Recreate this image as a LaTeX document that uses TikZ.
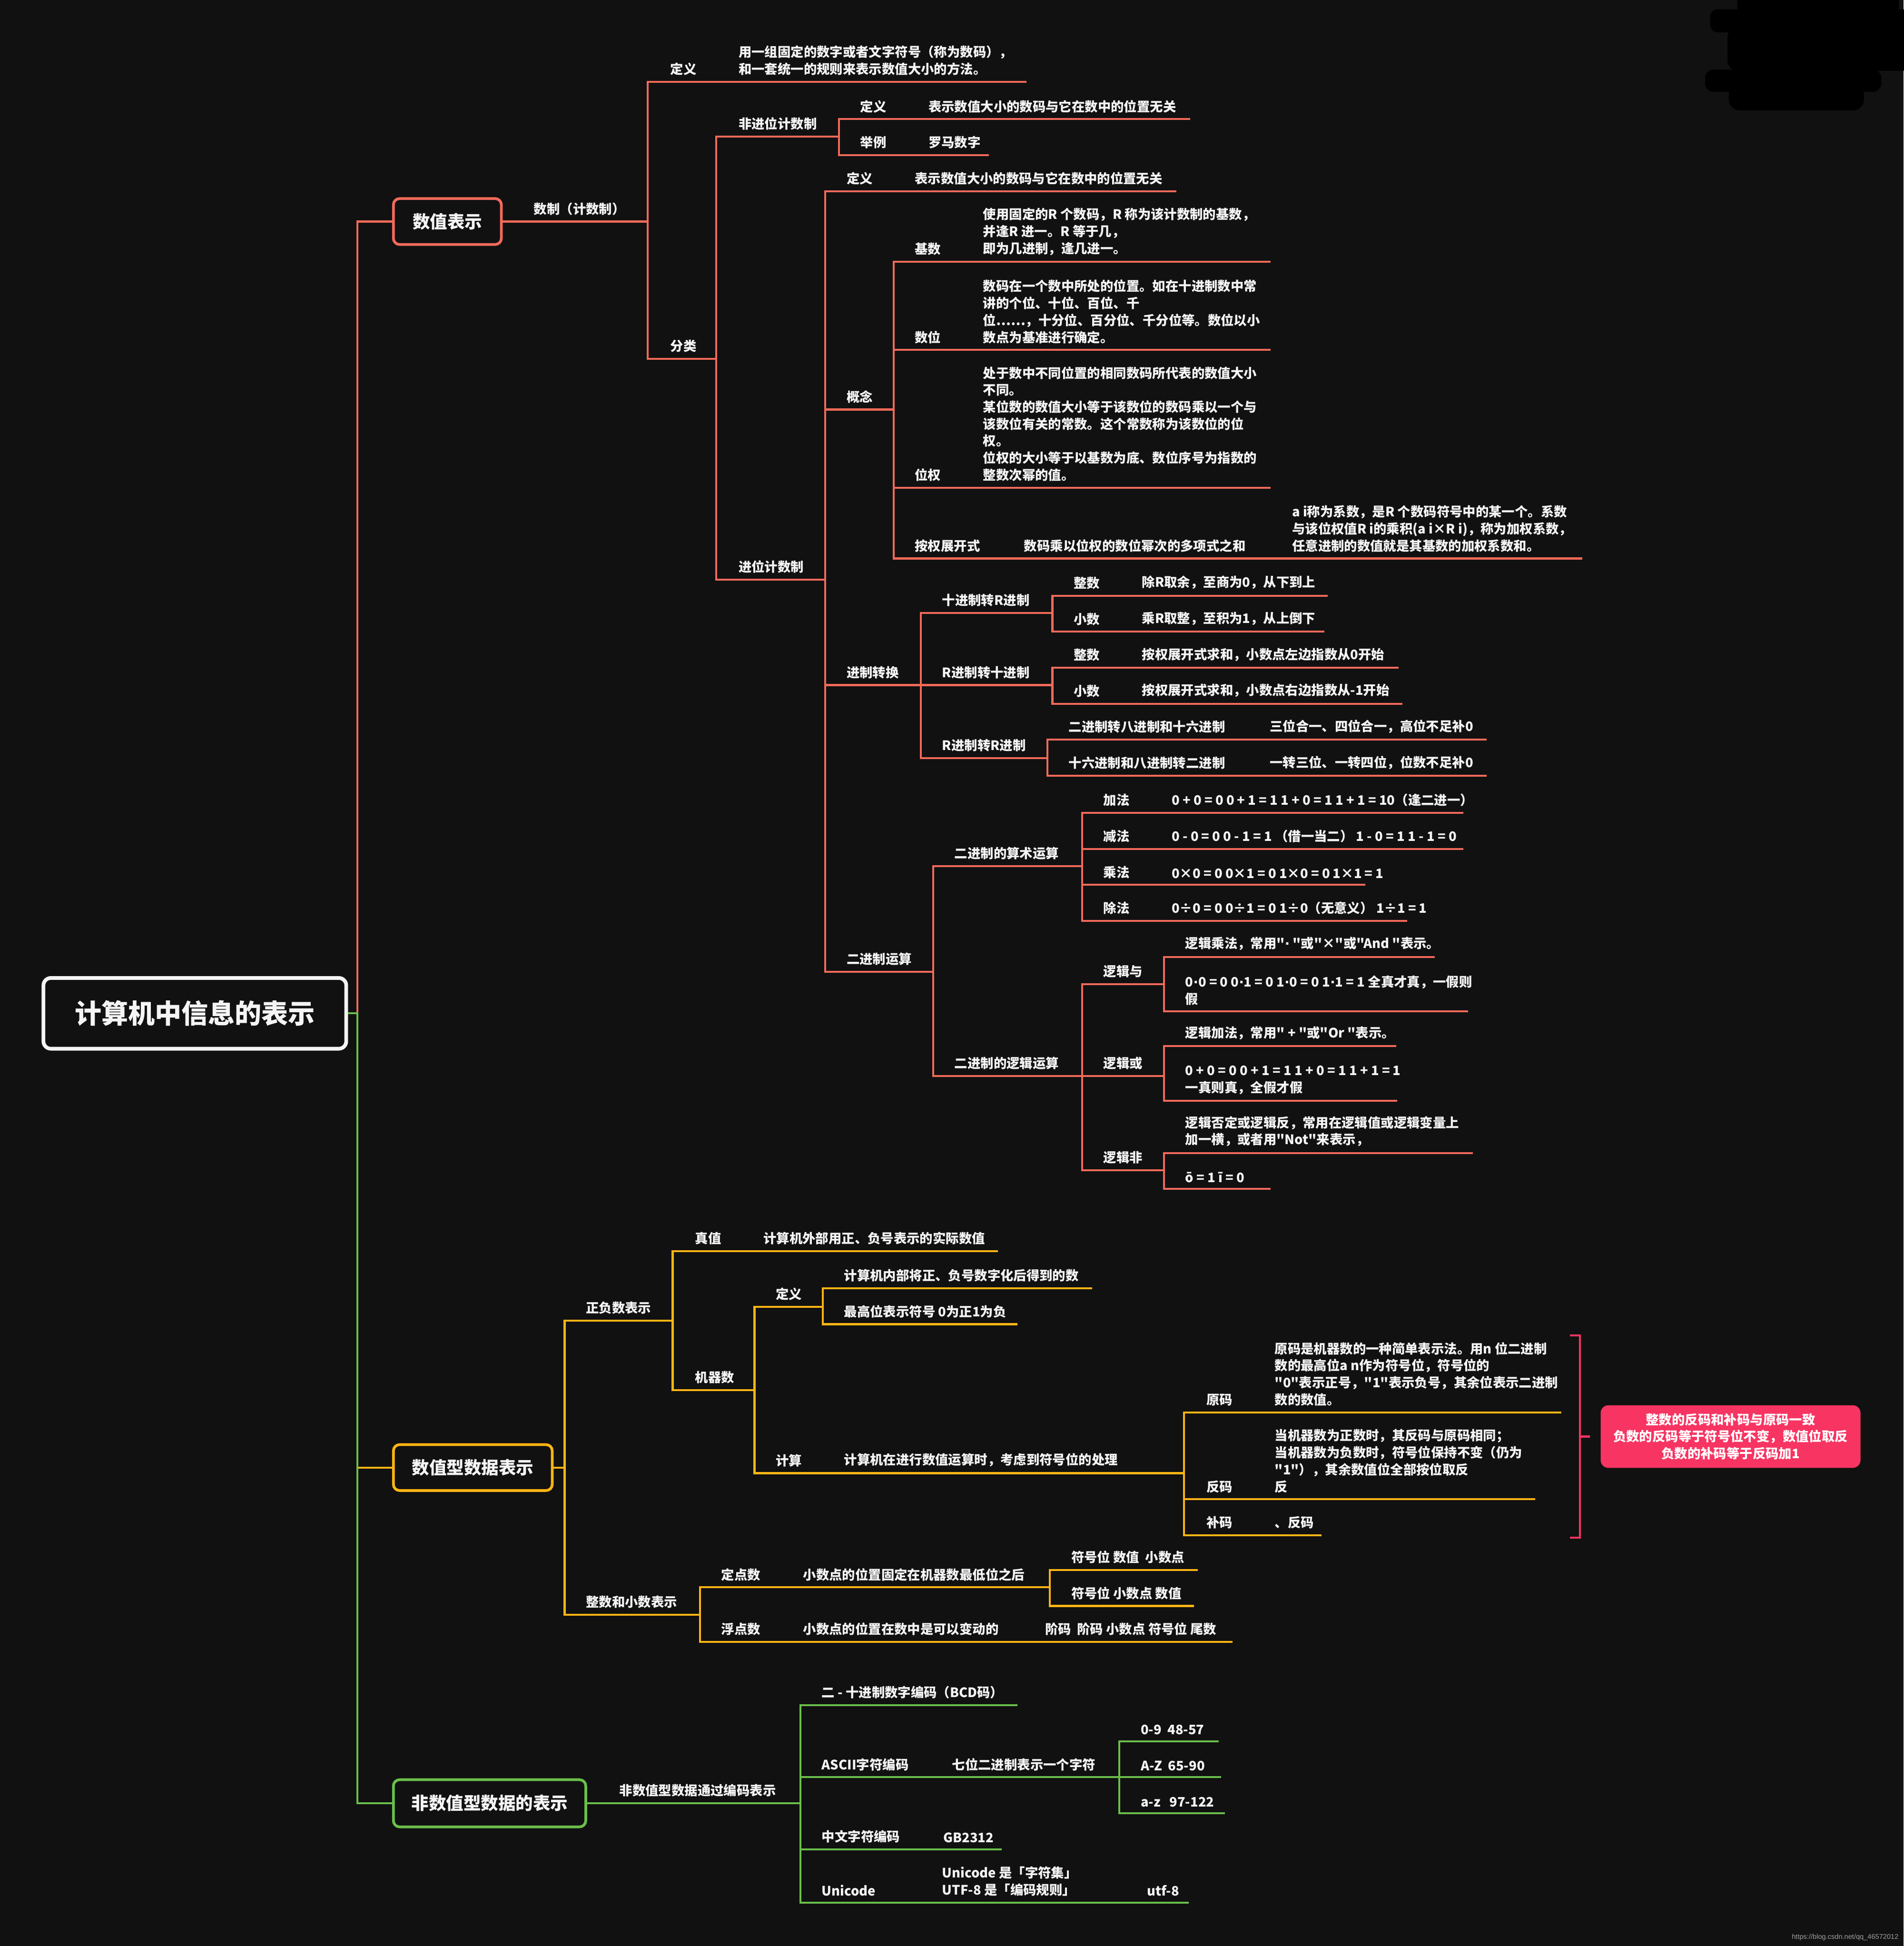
\documentclass[tikz,border=0pt]{standalone}
\usepackage{fontspec}
\setmainfont{Noto Sans CJK SC}
\newfontfamily\cjkfamily{Noto Sans CJK SC}
\newfontfamily\dotfamily{DejaVu Sans}
\newfontfamily\wmfamily{Liberation Sans}
\usetikzlibrary{positioning,calc}

\definecolor{bgc}{HTML}{111111}
\definecolor{redc}{HTML}{F26A5A}
\definecolor{yelc}{HTML}{FDB514}
\definecolor{grnc}{HTML}{6ABF4B}
\definecolor{pinkc}{HTML}{F73462}
\definecolor{txtc}{HTML}{F4F4F4}
\newcommand{\lblfont}{\cjkfamily\bfseries\fontsize{10.5}{13.7}\selectfont}
\newcommand{\mdot}{{\dotfamily ·}}

\begin{document}
\begin{tikzpicture}[x=1pt, y=-1pt,
    lbl/.style={anchor=south west, inner sep=0pt, text=txtc, align=left, font=\lblfont},
    rl/.style={draw=redc, line width=1.6pt},
    yl/.style={draw=yelc, line width=1.6pt},
    gl/.style={draw=grnc, line width=1.6pt},
    pl/.style={draw=pinkc, line width=1.6pt},
    topicbox/.style={draw, rounded corners=5pt, line width=2.2pt, fill=bgc, text=txtc, inner sep=0pt, font=\bfseries\fontsize{14}{16}\selectfont},
    summary/.style={draw=pinkc, fill=pinkc, rounded corners=6pt, minimum width=209pt, minimum height=50pt, inner sep=0pt, text=white, align=center, font=\lblfont}
]
\fill[bgc] (0,0) rectangle (1534,1568);
\useasboundingbox (0,0) rectangle (1534,1568);

\fill[black, rounded corners=6pt] (1400,-8) rectangle (1530,11.5);
\fill[black, rounded corners=6pt] (1378,7.5) rectangle (1545,26);
\fill[black, rounded corners=8pt] (1392,22) rectangle (1545,57);
\fill[black, rounded corners=7pt] (1374,56) rectangle (1516,74);
\fill[black, rounded corners=9pt] (1393,68) rectangle (1502,89);

\node[draw=txtc, rounded corners=6pt, line width=3pt, minimum width=244pt, minimum height=57pt, inner sep=0pt, text=txtc, font=\bfseries\fontsize{21.5}{24}\selectfont] (root) at (157,816.5) {计算机中信息的表示};

\node[topicbox, draw=redc, minimum width=87pt, minimum height=37pt] (numbox) at (360.5,178.5) {数值表示};
\node[topicbox, draw=yelc, minimum width=128pt, minimum height=37pt] (databox) at (381,1182.5) {数值型数据表示};
\node[topicbox, draw=grnc, minimum width=155pt, minimum height=38pt] (nonbox) at (394.5,1453) {非数值型数据的表示};

\coordinate (hub) at (288,816.5);
\draw[rl] (hub) |- (numbox.west);
\draw[yl] (hub) |- (databox.west);
\draw[gl] (root.east) -- (hub) |- (nonbox.west);

% 数值表示
\coordinate (numsys) at (522,178.5);
\coordinate (def) at (827,66);
\coordinate (classify) at (577,289);
\coordinate (nonpos) at (676,110);
\coordinate (nonpos-def) at (959,96);
\coordinate (nonpos-ex) at (797,125);
\coordinate (pos) at (665,467);
\coordinate (pos-def) at (948,154);
\coordinate (concept) at (720,330);
\coordinate (radix) at (1024,211);
\coordinate (digit) at (1024,282);
\coordinate (weight) at (1024,393);
\coordinate (expand) at (1275,450);
\coordinate (conv) at (742,552);
\coordinate (d2r) at (848,494);
\coordinate (d2r-int) at (1070,480);
\coordinate (d2r-frac) at (1067,509);
\coordinate (r2d) at (848,552);
\coordinate (r2d-int) at (1127,538);
\coordinate (r2d-frac) at (1130,567);
\coordinate (r2r) at (844,611);
\coordinate (r2r-a) at (1198,596);
\coordinate (r2r-b) at (1198,625);
\coordinate (binop) at (752,783);
\coordinate (arith) at (872,698);
\coordinate (add) at (1179,655);
\coordinate (sub) at (1179,684);
\coordinate (mul) at (1100,713);
\coordinate (div) at (1134,742);
\coordinate (logic) at (872,867);
\coordinate (land) at (938,793);
\coordinate (land-a) at (1156,771);
\coordinate (land-b) at (1183,815);
\coordinate (lor) at (938,867);
\coordinate (lor-a) at (1125,843);
\coordinate (lor-b) at (1126,887);
\coordinate (lnot) at (938,943);
\coordinate (lnot-a) at (1187,929);
\coordinate (lnot-b) at (1024,958);

\draw[rl] (numbox.east) -- (numsys);
\foreach \p/\c in {numsys/def, numsys/classify, classify/nonpos, classify/pos,
    nonpos/nonpos-def, nonpos/nonpos-ex, pos/pos-def, pos/concept, pos/conv, pos/binop,
    concept/radix, concept/digit, concept/weight, concept/expand,
    conv/d2r, conv/r2d, conv/r2r, d2r/d2r-int, d2r/d2r-frac, r2d/r2d-int, r2d/r2d-frac,
    r2r/r2r-a, r2r/r2r-b, binop/arith, binop/logic,
    arith/add, arith/sub, arith/mul, arith/div, logic/land, logic/lor, logic/lnot,
    land/land-a, land/land-b, lor/lor-a, lor/lor-b, lnot/lnot-a, lnot/lnot-b}
    \draw[rl] (\p) |- (\c);

\node[lbl] (numsys-t) at (430,173.5) {数制（计数制）};
\node[lbl] (def-t) at (540,61) {定义};
\node[lbl] (def-d) at (595,61) {用一组固定的数字或者文字符号（称为数码），\\和一套统一的规则来表示数值大小的方法。};
\node[lbl] (classify-t) at (540,284) {分类};
\node[lbl] (nonpos-t) at (595,105) {非进位计数制};
\node[lbl] (nonpos-def-t) at (693,91) {定义};
\node[lbl] (nonpos-def-d) at (748,91) {表示数值大小的数码与它在数中的位置无关};
\node[lbl] (nonpos-ex-t) at (693,120) {举例};
\node[lbl] (nonpos-ex-d) at (748,120) {罗马数字};
\node[lbl] (pos-t) at (595,462) {进位计数制};
\node[lbl] (pos-def-t) at (682,149) {定义};
\node[lbl] (pos-def-d) at (737,149) {表示数值大小的数码与它在数中的位置无关};
\node[lbl] (concept-t) at (682,325) {概念};
\node[lbl] (radix-t) at (737,206) {基数};
\node[lbl] (radix-d) at (792,206) {使用固定的R 个数码，R 称为该计数制的基数，\\并逢R 进一。R 等于几，\\即为几进制，逢几进一。};
\node[lbl] (digit-t) at (737,277) {数位};
\node[lbl] (digit-d) at (792,277) {数码在一个数中所处的位置。如在十进制数中常\\讲的个位、十位、百位、千\\位……，十分位、百分位、千分位等。数位以小\\数点为基准进行确定。};
\node[lbl] (weight-t) at (737,388) {位权};
\node[lbl] (weight-d) at (792,388) {处于数中不同位置的相同数码所代表的数值大小\\不同。\\某位数的数值大小等于该数位的数码乘以一个与\\该数位有关的常数。这个常数称为该数位的位\\权。\\位权的大小等于以基数为底、数位序号为指数的\\整数次幂的值。};
\node[lbl] (expand-t) at (737,445) {按权展开式};
\node[lbl] (expand-d) at (825,445) {数码乘以位权的数位幂次的多项式之和};
\node[lbl] (expand-n) at (1041,445) {a i称为系数，是R 个数码符号中的某一个。系数\\与该位权值R i的乘积(a i×R i)，称为加权系数，\\任意进制的数值就是其基数的加权系数和。};
\node[lbl] (conv-t) at (682,547) {进制转换};
\node[lbl] (d2r-t) at (759,489) {十进制转R进制};
\node[lbl] (d2r-int-t) at (865,475) {整数};
\node[lbl] (d2r-int-d) at (920,475) {除R取余，至商为0，从下到上};
\node[lbl] (d2r-frac-t) at (865,504) {小数};
\node[lbl] (d2r-frac-d) at (920,504) {乘R取整，至积为1，从上倒下};
\node[lbl] (r2d-t) at (759,547) {R进制转十进制};
\node[lbl] (r2d-int-t) at (865,533) {整数};
\node[lbl] (r2d-int-d) at (920,533) {按权展开式求和，小数点左边指数从0开始};
\node[lbl] (r2d-frac-t) at (865,562) {小数};
\node[lbl] (r2d-frac-d) at (920,562) {按权展开式求和，小数点右边指数从-1开始};
\node[lbl] (r2r-t) at (759,606) {R进制转R进制};
\node[lbl] (r2r-a-t) at (861,591) {二进制转八进制和十六进制};
\node[lbl] (r2r-a-d) at (1023,591) {三位合一、四位合一，高位不足补0};
\node[lbl] (r2r-b-t) at (861,620) {十六进制和八进制转二进制};
\node[lbl] (r2r-b-d) at (1023,620) {一转三位、一转四位，位数不足补0};
\node[lbl] (binop-t) at (682,778) {二进制运算};
\node[lbl] (arith-t) at (769,693) {二进制的算术运算};
\node[lbl] (add-t) at (889,650) {加法};
\node[lbl] (add-d) at (944,650) {0 + 0 = 0 0 + 1 = 1 1 + 0 = 1 1 + 1 = 10（逢二进一）};
\node[lbl] (sub-t) at (889,679) {减法};
\node[lbl] (sub-d) at (944,679) {0 - 0 = 0 0 - 1 = 1 （借一当二） 1 - 0 = 1 1 - 1 = 0};
\node[lbl] (mul-t) at (889,708) {乘法};
\node[lbl] (mul-d) at (944,708) {0×0 = 0 0×1 = 0 1×0 = 0 1×1 = 1};
\node[lbl] (div-t) at (889,737) {除法};
\node[lbl] (div-d) at (944,737) {0÷0 = 0 0÷1 = 0 1÷0（无意义） 1÷1 = 1};
\node[lbl] (logic-t) at (769,862) {二进制的逻辑运算};
\node[lbl] (land-t) at (889,788) {逻辑与};
\node[lbl] (land-a-d) at (955,766) {逻辑乘法，常用"\mdot{} "或"×"或"And "表示。};
\node[lbl] (land-b-d) at (955,810) {0\mdot0 = 0 0\mdot1 = 0 1\mdot0 = 0 1\mdot1 = 1 全真才真，一假则\\假};
\node[lbl] (lor-t) at (889,862) {逻辑或};
\node[lbl] (lor-a-d) at (955,838) {逻辑加法，常用" + "或"Or "表示。};
\node[lbl] (lor-b-d) at (955,882) {0 + 0 = 0 0 + 1 = 1 1 + 0 = 1 1 + 1 = 1\\一真则真，全假才假};
\node[lbl] (lnot-t) at (889,938) {逻辑非};
\node[lbl] (lnot-a-d) at (955,924) {逻辑否定或逻辑反，常用在逻辑值或逻辑变量上\\加一横，或者用"Not"来表示，};
\node[lbl] (lnot-b-d) at (955,953) {ō = 1 ī = 0};

% 数值型数据表示
\coordinate (datahub) at (455,1182.5);
\coordinate (signed) at (542,1064);
\coordinate (truev) at (804,1008);
\coordinate (machine) at (608,1120);
\coordinate (mdef) at (663,1053);
\coordinate (mdef-a) at (880,1038);
\coordinate (mdef-b) at (820,1067);
\coordinate (calc) at (954,1187);
\coordinate (orig) at (1258,1138);
\coordinate (ones) at (1237,1208);
\coordinate (twos) at (1065,1237);
\coordinate (intfrac) at (564,1301);
\coordinate (fixed) at (846,1279);
\coordinate (fixed-a) at (965,1265);
\coordinate (fixed-b) at (962,1294);
\coordinate (float) at (993,1323);

\draw[yl] (databox.east) -- (datahub);
\foreach \p/\c in {datahub/signed, datahub/intfrac, signed/truev, signed/machine,
    machine/mdef, machine/calc, mdef/mdef-a, mdef/mdef-b,
    calc/orig, calc/ones, calc/twos, intfrac/fixed, intfrac/float,
    fixed/fixed-a, fixed/fixed-b}
    \draw[yl] (\p) |- (\c);

\node[lbl] (signed-t) at (472,1059) {正负数表示};
\node[lbl] (truev-t) at (560,1003) {真值};
\node[lbl] (truev-d) at (615,1003) {计算机外部用正、负号表示的实际数值};
\node[lbl] (machine-t) at (560,1115) {机器数};
\node[lbl] (mdef-t) at (625,1048) {定义};
\node[lbl] (mdef-a-d) at (680,1033) {计算机内部将正、负号数字化后得到的数};
\node[lbl] (mdef-b-d) at (680,1062) {最高位表示符号 0为正1为负};
\node[lbl] (calc-t) at (625,1182) {计算};
\node[lbl] (calc-d) at (680,1182) {计算机在进行数值运算时，考虑到符号位的处理};
\node[lbl] (orig-t) at (972,1133) {原码};
\node[lbl] (orig-d) at (1027,1133) {原码是机器数的一种简单表示法。用n 位二进制\\数的最高位a n作为符号位，符号位的\\"0"表示正号，"1"表示负号，其余位表示二进制\\数的数值。};
\node[lbl] (ones-t) at (972,1203) {反码};
\node[lbl] (ones-d) at (1027,1203) {当机器数为正数时，其反码与原码相同；\\当机器数为负数时，符号位保持不变（仍为\\"1"），其余数值位全部按位取反\\反};
\node[lbl] (twos-t) at (972,1232) {补码};
\node[lbl] (twos-d) at (1027,1232) {、反码};
\node[lbl] (intfrac-t) at (472,1296) {整数和小数表示};
\node[lbl] (fixed-t) at (581,1274) {定点数};
\node[lbl] (fixed-d) at (647,1274) {小数点的位置固定在机器数最低位之后};
\node[lbl] (fixed-a-d) at (863,1260) {符号位 数值\ \ 小数点};
\node[lbl] (fixed-b-d) at (863,1289) {符号位 小数点 数值};
\node[lbl] (float-t) at (581,1318) {浮点数};
\node[lbl] (float-d) at (647,1318) {小数点的位置在数中是可以变动的};
\node[lbl] (float-n) at (842,1318) {阶码\ \ 阶码 小数点 符号位 尾数};

\coordinate (br-top) at (1265,1076);
\coordinate (br-bot) at (1265,1239);
\coordinate (br-mid) at (1273,1157.5);
\coordinate (br-tip) at (1281,1157.5);
\node[summary] (summary) at (1394.5,1157.5) {整数的反码和补码与原码一致\\负数的反码等于符号位不变，数值位取反\\负数的补码等于反码加1};
\draw[pl] (br-top) -- ++(8,0) |- (br-bot);
\draw[pl] (br-mid) -- (br-tip);

% 非数值型数据的表示
\coordinate (enc) at (645,1453);
\coordinate (bcd) at (820,1374);
\coordinate (ascii) at (902,1432);
\coordinate (asc-a) at (982,1403);
\coordinate (asc-b) at (984,1432);
\coordinate (asc-c) at (987,1461);
\coordinate (gb) at (807,1490);
\coordinate (uni) at (958,1533);

\draw[gl] (nonbox.east) -- (enc);
\foreach \p/\c in {enc/bcd, enc/ascii, enc/gb, enc/uni, ascii/asc-a, ascii/asc-b, ascii/asc-c}
    \draw[gl] (\p) |- (\c);

\node[lbl] (enc-t) at (499,1448) {非数值型数据通过编码表示};
\node[lbl] (bcd-t) at (662,1369) {二 - 十进制数字编码（BCD码）};
\node[lbl] (ascii-t) at (662,1427) {ASCII字符编码};
\node[lbl] (ascii-d) at (767,1427) {七位二进制表示一个字符};
\node[lbl] (asc-a-d) at (919,1398) {0-9\ \ 48-57};
\node[lbl] (asc-b-d) at (919,1427) {A-Z\ \ 65-90};
\node[lbl] (asc-c-d) at (919,1456) {a-z\ \ \ 97-122};
\node[lbl] (gb-t) at (662,1485) {中文字符编码};
\node[lbl] (gb-d) at (760,1485) {GB2312};
\node[lbl] (uni-t) at (662,1528) {Unicode};
\node[lbl] (uni-d) at (759,1528) {Unicode 是「字符集」\\UTF-8 是「编码规则」};
\node[lbl] (uni-n) at (924,1528) {utf-8};

\node[anchor=east, inner sep=0pt, text=gray!75, font=\wmfamily\fontsize{5.6}{6}\selectfont] (mark) at (1530,1561) {https://blog.csdn.net/qq\_46572012};
\end{tikzpicture}
\end{document}
